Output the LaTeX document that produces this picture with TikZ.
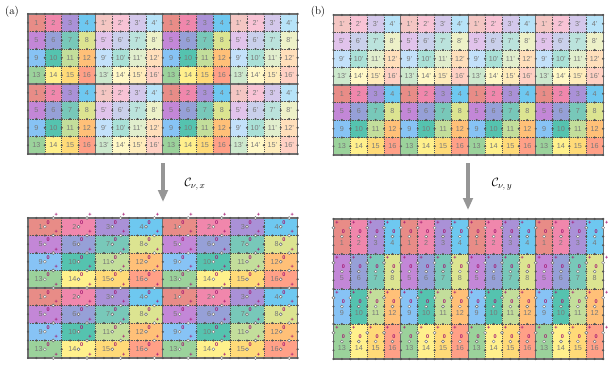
\documentclass[tikz,border=0pt]{standalone}
\usepackage{fontspec}
\setsansfont{Liberation Sans}
\usetikzlibrary{arrows.meta}
\definecolor{c1}{RGB}{232,140,135}
\definecolor{c2}{RGB}{240,135,172}
\definecolor{c3}{RGB}{170,145,215}
\definecolor{c4}{RGB}{110,200,240}
\definecolor{c5}{RGB}{195,135,215}
\definecolor{c6}{RGB}{150,160,215}
\definecolor{c7}{RGB}{120,200,185}
\definecolor{c8}{RGB}{220,228,145}
\definecolor{c9}{RGB}{135,195,245}
\definecolor{c10}{RGB}{85,195,175}
\definecolor{c11}{RGB}{195,222,155}
\definecolor{c12}{RGB}{255,192,120}
\definecolor{c13}{RGB}{155,210,155}
\definecolor{c14}{RGB}{255,240,140}
\definecolor{c15}{RGB}{255,218,120}
\definecolor{c16}{RGB}{255,160,135}
\definecolor{labgray}{RGB}{120,120,120}
\definecolor{dotgray}{RGB}{85,85,85}
\definecolor{edgegray}{RGB}{110,110,110}
\definecolor{mag}{RGB}{165,25,115}
\definecolor{arrowgray}{RGB}{150,150,150}
\def\CW{16.85}
\def\RH{17.5}
\tikzset{
 numlab/.style={font=\sffamily\fontsize{7.2}{8}\selectfont, text=labgray, inner sep=0pt},
 zerolab/.style={font=\sffamily\bfseries\fontsize{5.5}{6}\selectfont, text=mag, inner sep=0pt},
 pluslab/.style={font=\sffamily\bfseries\fontsize{5.5}{6}\selectfont, text=mag, inner sep=0pt},
 dotline/.style={draw=dotgray, line width=0.55pt, dash pattern=on 0.7pt off 1.1pt},
 blockline/.style={draw=edgegray, line width=1.1pt},
 site/.style={fill=dotgray},
 osite/.style={fill=white, draw=edgegray, line width=0.45pt},
 bigarrow/.style={draw=arrowgray, line width=3.6pt, -{Triangle[width=9.5pt,length=12pt]}},
 panellab/.style={font=\fontsize{11}{12}\selectfont, inner sep=0pt},
 oplab/.style={font=\fontsize{13}{14}\selectfont, inner sep=0pt},
}
% top grid: #1 x0, #2 y0, #3 mode (1: primes in odd column blocks, 2: primes in upper row block), #4 name
\newcommand\TopGrid[4]{%
 \foreach \r in {0,...,7}{\foreach \c in {0,...,15}{%
   \pgfmathtruncatemacro\n{4*mod(\r,4)+mod(\c,4)+1}%
   \ifnum#3=1\relax \pgfmathtruncatemacro\p{mod(floor(\c/4),2)}\else \pgfmathtruncatemacro\p{\r<4 ? 1 : 0}\fi
   \ifnum\p=1\relax \def\CellCol{c\n!50!white}\else \def\CellCol{c\n}\fi
   \fill[\CellCol] (#1+\c*\CW,#2+\r*\RH) rectangle ++(\CW,\RH);
 }}
 \foreach \c in {1,2,3,5,6,7,9,10,11,13,14,15}{\draw[dotline] (#1+\c*\CW,#2) -- ++(0,8*\RH);}
 \foreach \r in {1,2,3,5,6,7}{\draw[dotline] (#1,#2+\r*\RH) -- ++(16*\CW,0);}
 \draw[blockline] (#1,#2) rectangle ++(16*\CW,8*\RH);
 \foreach \c in {4,8,12}{\draw[blockline] (#1+\c*\CW,#2) -- ++(0,8*\RH);}
 \draw[blockline] (#1,#2+4*\RH) -- ++(16*\CW,0);
 \foreach \r in {0,...,8}{\foreach \k in {0,...,32}{\fill[site] (#1+\k*0.5*\CW,#2+\r*\RH) circle (1.2);}}
 \foreach \r in {0,...,7}{\foreach \c in {0,...,16}{\fill[site] (#1+\c*\CW,#2+\r*\RH+0.5*\RH) circle (1.2);}}
 \foreach \r in {0,...,7}{\foreach \c in {0,...,15}{%
   \pgfmathtruncatemacro\n{4*mod(\r,4)+mod(\c,4)+1}%
   \ifnum#3=1\relax \pgfmathtruncatemacro\p{mod(floor(\c/4),2)}\else \pgfmathtruncatemacro\p{\r<4 ? 1 : 0}\fi
   \ifnum\p=1\relax
     \node[numlab] (#4-\r-\c) at (#1+\c*\CW+0.5*\CW,#2+\r*\RH+0.5*\RH) {\n'};
   \else
     \node[numlab] (#4-\r-\c) at (#1+\c*\CW+0.5*\CW,#2+\r*\RH+0.5*\RH) {\n};
   \fi
 }}
}
\begin{document}
\begin{tikzpicture}[x=1pt,y=-1pt]
\useasboundingbox (0,0) rectangle (608,365);
\node[panellab] (la) at (12,12) {(a)};
\node[panellab] (lb) at (318,12) {(b)};
\TopGrid{28}{14}{1}{TA}
\TopGrid{333.5}{15}{2}{TB}

% ---------- bottom (a) ----------
\foreach \r in {0,...,7}{\foreach \c in {0,...,7}{%
 \pgfmathtruncatemacro\n{4*mod(\r,4)+mod(\c,4)+1}%
 \fill[c\n] (28+\c*2*\CW,218+\r*\RH) rectangle ++(2*\CW,\RH);
}}
\foreach \c in {1,2,3,5,6,7}{\draw[dotline] (28+\c*2*\CW,218) -- ++(0,8*\RH);}
\foreach \r in {1,2,3,5,6,7}{\draw[dotline] (28,218+\r*\RH) -- ++(16*\CW,0);}
\draw[blockline] (28,218) rectangle ++(16*\CW,8*\RH);
\draw[blockline] (28+8*\CW,218) -- ++(0,8*\RH);
\draw[blockline] (28,218+4*\RH) -- ++(16*\CW,0);
\foreach \r in {0,...,8}{\foreach \k in {0,...,32}{%
  \pgfmathtruncatemacro\m{mod(\k,4)}%
  \ifnum\m=3\relax
    \draw[osite] (28+\k*0.5*\CW,218+\r*\RH) circle (1.5);
    \node[pluslab] at (28+\k*0.5*\CW+3,218+\r*\RH-3.5) {+};
  \else
    \fill[site] (28+\k*0.5*\CW,218+\r*\RH) circle (1.2);
  \fi
}}
\foreach \r in {0,...,7}{\foreach \c in {0,...,8}{\fill[site] (28+\c*2*\CW,218+\r*\RH+0.5*\RH) circle (1.2);}}
\foreach \r in {0,...,7}{\foreach \c in {0,...,7}{%
 \pgfmathtruncatemacro\n{4*mod(\r,4)+mod(\c,4)+1}%
 \coordinate (BAc-\r-\c) at (28+\c*2*\CW+\CW,218+\r*\RH+0.5*\RH);
 \draw[osite] (BAc-\r-\c) circle (1.5);
 \node[numlab, anchor=east] (BAn-\r-\c) at ([xshift=-2pt]BAc-\r-\c) {\n};
 \node[zerolab] (BAz-\r-\c) at ([xshift=3.2pt,yshift=4.2pt]BAc-\r-\c) {0};
}}

% ---------- bottom (b) ----------
\foreach \r in {0,...,3}{\foreach \c in {0,...,15}{%
 \pgfmathtruncatemacro\n{4*\r+mod(\c,4)+1}%
 \fill[c\n] (333.5+\c*\CW,219+\r*2*\RH) rectangle ++(\CW,2*\RH);
}}
\foreach \c in {1,2,3,5,6,7,9,10,11,13,14,15}{\draw[dotline] (333.5+\c*\CW,219) -- ++(0,8*\RH);}
\foreach \r in {1,2,3}{\draw[dotline] (333.5,219+\r*2*\RH) -- ++(16*\CW,0);}
\draw[blockline] (333.5,219) rectangle ++(16*\CW,8*\RH);
\foreach \c in {4,8,12}{\draw[blockline] (333.5+\c*\CW,219) -- ++(0,8*\RH);}
\foreach \r in {0,...,4}{\foreach \k in {0,...,32}{\fill[site] (333.5+\k*0.5*\CW,219+\r*2*\RH) circle (1.2);}}
\foreach \c in {0,...,16}{\foreach \j in {0,...,16}{%
  \pgfmathtruncatemacro\m{mod(\j,4)}%
  \ifnum\m=1\relax
    \draw[osite] (333.5+\c*\CW,219+\j*0.5*\RH) circle (1.5);
    \node[pluslab] at (333.5+\c*\CW+3.5,219+\j*0.5*\RH-4.5) {+};
  \else
    \fill[site] (333.5+\c*\CW,219+\j*0.5*\RH) circle (1.2);
  \fi
}}
\foreach \r in {0,...,3}{\foreach \c in {0,...,15}{%
 \pgfmathtruncatemacro\n{4*\r+mod(\c,4)+1}%
 \coordinate (BBc-\r-\c) at (333.5+\c*\CW+0.5*\CW,219+\r*2*\RH+\RH);
 \draw[osite] (BBc-\r-\c) circle (1.5);
 \node[numlab] (BBn-\r-\c) at ([yshift=-6.5pt]BBc-\r-\c) {\n};
 \node[zerolab] (BBz-\r-\c) at ([xshift=1.5pt,yshift=4.8pt]BBc-\r-\c) {0};
}}

% ---------- arrows ----------
\coordinate (arA1) at (163,163);
\coordinate (arA2) at (163,202);
\coordinate (arB1) at (468,163);
\coordinate (arB2) at (468,210);
\draw[bigarrow] (arA1) -- (arA2);
\draw[bigarrow] (arB1) -- (arB2);
\node[oplab] (opx) at (195,184) {$\mathcal{C}_{\nu,\,x}$};
\node[oplab] (opy) at (502,184) {$\mathcal{C}_{\nu,\,y}$};
\end{tikzpicture}
\end{document}
